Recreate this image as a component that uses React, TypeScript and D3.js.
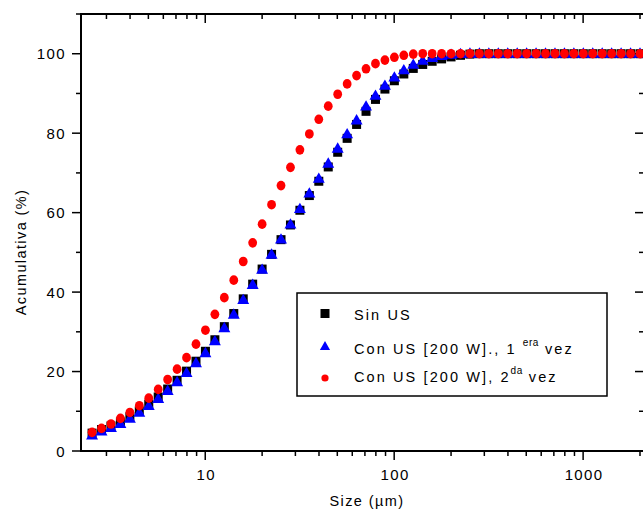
import { useEffect, useRef } from "react";
import * as d3 from "d3";

// particle size bins (µm)
const sizes = [
  2.518, 2.825, 3.170, 3.557, 3.991, 4.477, 5.024, 5.637, 6.325, 7.096,
  7.962, 8.934, 10.024, 11.247, 12.619, 14.159, 15.887, 17.825, 20.0, 22.44,
  25.179, 28.251, 31.698, 35.566, 39.905, 44.774, 50.238, 56.368, 63.246, 70.963,
  79.621, 89.337, 100.237, 112.468, 126.191, 141.589, 158.866, 178.25, 200.0, 224.404,
  251.785, 282.508, 316.979, 355.656, 399.052, 447.744, 502.377, 563.677, 632.456, 709.627,
  796.214, 893.367, 1002.374, 1124.683, 1261.915, 1415.892, 1588.656, 1782.502, 2000.0,
];

const sinUS = [
  4.5, 5.4, 6.3, 7.3, 8.6, 10.1, 11.8, 13.6, 15.6, 17.8,
  20.1, 22.6, 25.1, 28.0, 31.3, 34.6, 38.3, 42.0, 45.8, 49.5,
  53.2, 56.9, 60.6, 64.3, 67.9, 71.5, 75.2, 78.7, 82.2, 85.5,
  88.5, 91.1, 93.2, 94.9, 96.3, 97.3, 98.1, 98.7, 99.2, 99.6,
  99.9, 100, 100, 100, 100, 100, 100, 100, 100, 100,
  100, 100, 100, 100, 100, 100, 100, 100, 100,
];

const conUS1 = [
  3.9, 4.9, 5.8, 6.8, 8.1, 9.6, 11.3, 13.1, 15.1, 17.3,
  19.6, 22.1, 24.6, 27.6, 30.9, 34.3, 38.0, 41.8, 45.6, 49.4,
  53.2, 57.0, 60.9, 64.8, 68.5, 72.3, 76.1, 79.7, 83.2, 86.7,
  89.4, 91.9, 94.0, 95.8, 97.2, 98.2, 98.9, 99.4, 99.7, 99.9,
  100, 100, 100, 100, 100, 100, 100, 100, 100, 100,
  100, 100, 100, 100, 100, 100, 100, 100, 100,
];

const conUS2 = [
  4.7, 5.7, 6.8, 8.2, 9.7, 11.4, 13.3, 15.5, 18.0, 20.6,
  23.5, 26.9, 30.4, 34.4, 38.6, 43.0, 47.7, 52.4, 57.1, 62.0,
  66.8, 71.4, 75.8, 79.8, 83.5, 86.8, 89.8, 92.4, 94.5, 96.2,
  97.5, 98.4, 99.1, 99.6, 99.9, 100, 100, 100, 100, 100,
  100, 100, 100, 100, 100, 100, 100, 100, 100, 100,
  100, 100, 100, 100, 100, 100, 100, 100, 100,
];

const xTicks = [10, 100, 1000];
const yTicks = [0, 20, 40, 60, 80, 100];
const yMinor = [10, 30, 50, 70, 90, 110];

const FONT = "'Liberation Sans', Arial, sans-serif";

export default function App() {
  const svgRef = useRef<SVGSVGElement>(null);

  useEffect(() => {
    const L = 81, R = 644, T = 14, B = 451;
    const svg = d3.select(svgRef.current);
    svg.selectAll("*").remove();

    const x = d3.scaleLog().domain([2.2, 2100]).range([L, R]);
    const y = d3.scaleLinear().domain([0, 110]).range([B, T]);

    const xMinor: number[] = [];
    [1, 10, 100, 1000].forEach(d => {
      for (let k = 2; k <= 9; k++) {
        const v = d * k;
        if (v > 2.2 && v <= 2100) xMinor.push(v);
      }
    });

    const g = svg.append("g");

    // ticks
    const tick = (x1: number, y1: number, x2: number, y2: number) =>
      g.append("line").attr("x1", x1).attr("y1", y1).attr("x2", x2).attr("y2", y2)
        .attr("stroke", "#000").attr("stroke-width", 1.5);

    xTicks.forEach(v => { tick(x(v), B, x(v), B + 9); tick(x(v), T, x(v), T + 9); });
    xMinor.forEach(v => { tick(x(v), B, x(v), B + 5); tick(x(v), T, x(v), T + 5); });
    yTicks.forEach(v => { tick(L - 9, y(v), L, y(v)); tick(R - 9, y(v), R, y(v)); });
    yMinor.forEach(v => { tick(L - 5, y(v), L, y(v)); tick(R - 5, y(v), R, y(v)); });

    // frame
    g.append("rect").attr("x", L).attr("y", T).attr("width", R - L).attr("height", B - T)
      .attr("fill", "none").attr("stroke", "#000").attr("stroke-width", 2);

    // tick labels
    yTicks.forEach(v => {
      g.append("text").attr("x", 66).attr("y", y(v) + 5.5)
        .attr("text-anchor", "end").attr("font-family", FONT).attr("font-size", 15)
        .attr("letter-spacing", 1.4).text(v);
    });
    xTicks.forEach(v => {
      g.append("text").attr("x", x(v) + 1).attr("y", 480)
        .attr("text-anchor", "middle").attr("font-family", FONT).attr("font-size", 15)
        .attr("letter-spacing", 1.4).text(v);
    });

    // axis titles
    g.append("text").attr("x", 367).attr("y", 506).attr("text-anchor", "middle")
      .attr("font-family", FONT).attr("font-size", 14.5).attr("letter-spacing", 1.4)
      .text("Size (µm)");
    g.append("text").attr("transform", "translate(26,252) rotate(-90)").attr("text-anchor", "middle")
      .attr("font-family", FONT).attr("font-size", 14.5).attr("letter-spacing", 1.4)
      .text("Acumulativa (%)");

    const tri = d3.symbol().type(d3.symbolTriangle).size(62);

    // series
    g.append("g").selectAll("rect").data(sizes).join("rect")
      .attr("x", d => x(d) - 4.5).attr("y", (_, i) => y(sinUS[i]) - 4.5)
      .attr("width", 9).attr("height", 9).attr("fill", "#000");
    g.append("g").selectAll("path").data(sizes).join("path")
      .attr("d", tri).attr("transform", (d, i) => `translate(${x(d)},${y(conUS1[i]) + 0.5})`)
      .attr("fill", "#0000ff");
    g.append("g").selectAll("ellipse").data(sizes).join("ellipse")
      .attr("cx", d => x(d)).attr("cy", (_, i) => y(conUS2[i]))
      .attr("rx", 4.4).attr("ry", 4.8).attr("fill", "#ff0000");

    // legend
    const lg = g.append("g");
    lg.append("rect").attr("x", 297).attr("y", 293).attr("width", 310).attr("height", 103)
      .attr("fill", "#fff").attr("stroke", "#000").attr("stroke-width", 1.5);
    lg.append("rect").attr("x", 320.5).attr("y", 309).attr("width", 9).attr("height", 9).attr("fill", "#000");
    lg.append("path").attr("d", d3.symbol().type(d3.symbolTriangle).size(45)).attr("transform", "translate(325,347)")
      .attr("fill", "#0000ff");
    lg.append("circle").attr("cx", 325).attr("cy", 378).attr("r", 3.6).attr("fill", "#ff0000");

    const lt = (yy: number) => lg.append("text").attr("x", 354).attr("y", yy)
      .attr("font-family", FONT).attr("font-size", 14.5).attr("letter-spacing", 2.1);
    lt(320).text("Sin US");
    const t2 = lt(354);
    t2.append("tspan").text("Con US [200 W]., 1 ");
    t2.append("tspan").attr("dy", -8).attr("font-size", 10).attr("letter-spacing", 0.5).text("era");
    t2.append("tspan").attr("dy", 8).text(" vez");
    const t3 = lt(382);
    t3.append("tspan").text("Con US [200 W], 2");
    t3.append("tspan").attr("dy", -8).attr("font-size", 10).attr("letter-spacing", 0.5).text("da");
    t3.append("tspan").attr("dy", 8).text(" vez");
  }, []);

  return (
    <svg ref={svgRef} width={643} height={510}
      style={{ position: "absolute", left: 0, top: 0, background: "#fff" }} />
  );
}
